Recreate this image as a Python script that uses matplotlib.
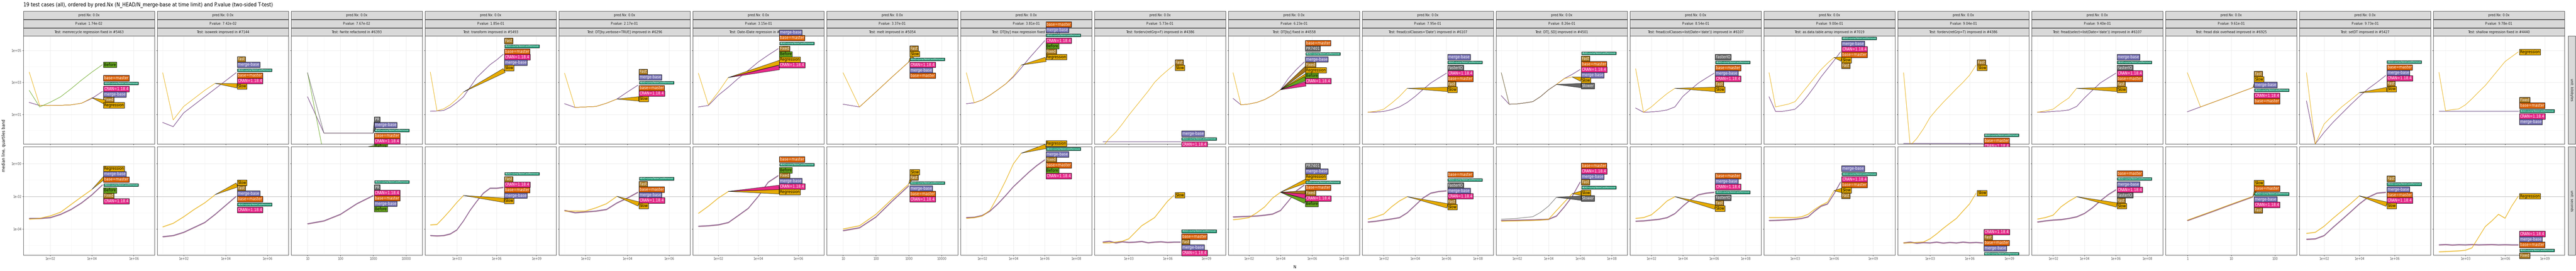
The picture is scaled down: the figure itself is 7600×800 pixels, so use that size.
import numpy as np
import matplotlib
matplotlib.use("Agg")
import matplotlib.pyplot as plt

plt.rcParams["font.family"] = "DejaVu Sans"
plt.rcParams["font.stretch"] = "condensed"

# ---- data (all values are log10 of N, kilobytes and seconds) ----
tests = ["memrecycle regression fixed in #5463", "isoweek improved in #7144", "fwrite refactored in #6393",
         "transform improved in #5493", "DT[by,verbose=TRUE] improved in #6296", "Date-IDate regression in #7213",
         "melt improved in #5054", "DT[by] max regression fixed in #7480", "forderv(retGrp=F) improved in #4386",
         "DT[by] fixed in #4558", "fread(colClasses='Date') improved in #6107", "DT[,.SD] improved in #4501",
         "fread(colClasses=list(Date='date')) improved in #6107", "as.data.table.array improved in #7019",
         "forderv(retGrp=T) improved in #4386", "fread(select=list(Date='date')) improved in #6107",
         "fread disk overhead improved in #6925", "setDT improved in #5427", "shallow regression fixed in #4440"]
pvalues = ["1.74e-02", "7.42e-02", "7.67e-02", "1.85e-01", "2.17e-01", "3.15e-01", "3.37e-01", "3.81e-01",
           "5.73e-01", "6.23e-01", "7.95e-01", "8.26e-01", "8.54e-01", "9.00e-01", "9.04e-01", "9.40e-01",
           "9.61e-01", "9.73e-01", "9.78e-01"]

xlims = [(0.72, 6.5), (0.74, 6.5), (0.85, 4.15), (0.6, 9.7), (0.73, 6.55), (0.72, 7.3), (0.87, 4.15),
         (0.63, 8.9), (0.35, 10.5), (0.7, 8.1), (0.63, 8.85), (0.67, 8.85), (0.64, 8.8), (0.6, 10.7),
         (0.56, 10.5), (0.63, 8.87), (-0.1, 2.36), (0.6, 8.05), (0.57, 10.44)]
ticks_e246 = ([2, 4, 6], ["1e+02", "1e+04", "1e+06"])
ticks_e2468 = ([2, 4, 6, 8], ["1e+02", "1e+04", "1e+06", "1e+08"])
ticks_e369 = ([3, 6, 9], ["1e+03", "1e+06", "1e+09"])
ticks_dec = ([1, 2, 3, 4], ["10", "100", "1000", "10000"])
xticks = [ticks_e246, ticks_e246, ticks_dec, ticks_e369, ticks_e246, ticks_e246, ticks_dec, ticks_e2468,
          ticks_e369, ticks_e2468, ticks_e2468, ticks_e2468, ticks_e2468, ticks_e369, ticks_e369, ticks_e2468,
          ([0, 1, 2], ["1", "10", "100"]), ticks_e246, ticks_e369]

h8 = [1, 1.5, 2, 2.5, 3, 3.5, 4, 4.5]
h11 = [1, 1.5, 2, 2.5, 3, 3.5, 4, 4.5, 5, 5.5, 6]
h13 = [1, 1.5, 2, 2.5, 3, 3.5, 4, 4.5, 5, 5.5, 6, 6.5, 7]
xs = [h8, h8, [1, 1.5, 2, 2.5, 3], h11 + [6.5], h8, h8 + [5], [1, 1.5, 2, 2.5, 3], h11, h13,
      h8 + [5, 5.5], h11, h11, h11, h11 + [6.5], h13, h11, [0, 0.3, 0.6, 0.9, 1.2, 1.5], h8 + [5, 5.5], h13]
N = None

top_main = [
    [1.75, 1.56, 1.56, 1.57, 1.6, 1.7, 2.0, 2.43],
    [0.5, 0.24, 1.1, 1.6, 2.1, 2.6, 3.1, 3.6],
    [2.1, -0.16, -0.16, -0.16, -0.16],
    [1.2, 1.22, 1.25, 1.45, 1.75, 2.1, 2.7, 3.3, 3.7, 4.1, 4.4, 4.75],
    [1.67, 1.44, 1.47, 1.5, 1.7, 1.96, 2.4, 2.82],
    [1.47, 1.56, 2.2, 2.7, 3.25, 3.75, 4.27, 4.7, 5.1],
    [1.64, 1.47, 2.4, 3.35, 4.27],
    [1.67, 1.73, 1.9, 2.2, 2.54, 2.9, 3.34, 3.9, 4.5, 5.05, 5.6],
    [-0.7] * 13,
    [2.0, 1.6, 1.65, 1.75, 1.93, 2.2, 2.54, 3.25, 3.8, 4.27],
    [1.14, 1.15, 1.19, 1.3, 1.47, 1.75, 2.12, 2.55, 2.96, 3.27, 3.57],
    [2.17, 1.64, 1.66, 1.72, 1.8, 2.12, 2.54, 2.87, 3.24, 3.5, 3.8],
    [1.4, 1.14, 1.16, 1.2, 1.28, 1.47, 2.12, 2.55, 2.96, 3.27, 3.57],
    [2.1, 1.19, 1.19, 1.25, 1.33, 1.7, 2.2, 2.75, 3.34, 3.85, 4.36, 4.9],
    [-0.8] * 13,
    [1.14, 1.15, 1.19, 1.22, 1.28, 1.5, 2.03, 2.5, 2.96, 3.27, 3.57],
    [1.17, 1.47, 1.77, 2.07, 2.38, 2.68],
    [1.84, -0.84, -0.12, 0.5, 1.05, 1.6, 2.12, 2.6, 3.0, 3.43],
    [1.22] * 13,
]
top_slow = [
    [3.64, 1.56, 1.56, 1.57, 1.6, 1.7, 2.04, N],
    [3.6, 0.66, 1.5, 2.0, 2.5, 2.94, N, N],
    [N] * 5,
    [3.64, 1.23, 1.35, 1.6, 1.96, 2.4, N, N, N, N, N, N],
    [3.57, 1.44, 1.47, 1.5, 1.7, 1.96, N, N],
    [3.57, 1.6, 2.4, 3.3, N, N, N, N, N],
    [3.6, 1.47, 2.4, 3.35, 4.27],
    [3.6, 1.73, 1.9, 2.2, 2.54, 2.9, 3.4, 4.08, N, N, N],
    [-1.0, -0.5, -0.1, 0.4, 0.95, 1.45, 1.95, 2.45, 3.0, 3.4, 3.75, 4.08, N],
    [3.6, 1.6, 1.65, 1.75, 1.93, 2.2, 2.54, N, N, N],
    [1.14, 1.2, 1.33, 1.7, 2.12, 2.63, N, N, N, N, N],
    [3.6, 1.64, 1.66, 1.72, 1.8, 2.12, 2.54, 2.87, 3.24, 3.34, N],
    [3.85, 1.14, 1.47, 1.9, 2.3, 2.63, N, N, N, N, N],
    [3.6, 1.47, 1.56, 1.65, 1.8, 2.3, 2.8, 3.3, 3.8, 4.2, 4.55, N],
    [3.6, -0.94, -0.5, 0.1, 0.81, 1.3, 1.75, 2.17, 2.6, 3.0, 3.45, 4.08, N],
    [1.14, 1.22, 1.33, 1.7, 2.03, 2.63, N, N, N, N, N],
    [3.6, 1.47, 1.77, 2.07, 2.38, 2.68],
    [3.6, -0.84, 0.4, 0.95, 1.47, 1.9, 2.36, N, N, N],
    [3.62, 1.23, 1.3, 1.35, 1.6, 1.98, 2.4, 2.8, 3.3, 3.8, 4.3, 4.6, 4.9],
]
bot_main = [
    [-3.35, -3.35, -3.3, -3.1, -2.8, -2.4, -1.9, -1.3],
    [-4.47, -4.4, -4.2, -3.9, -3.6, -3.1, -2.55, -2.0],
    [-3.68, -3.5, -3.1, -2.45, -1.95],
    [-4.4, -4.42, -4.4, -4.3, -4.05, -3.5, -2.85, -2.3, -1.8, -1.5, -1.5, -1.45],
    [-2.86, -3.0, -2.95, -2.9, -2.8, -2.4, -2.1, -1.75],
    [-3.83, -3.8, -3.74, -3.6, -3.17, -2.73, -2.0, -1.13, -0.73],
    [-4.1, -3.92, -3.26, -2.28, -1.35],
    [-3.3, -3.28, -3.17, -2.9, -2.46, -1.95, -1.4, -0.95, -0.5, -0.1, 0.24],
    [-4.8, -4.75, -4.85, -4.78, -4.82, -4.8, -4.76, -4.84, -4.8, -4.78, -4.82, -4.8, -4.8],
    [-3.26, -3.24, -3.22, -3.2, -3.15, -3.08, -2.86, -2.28, -1.66, -1.3],
    [-3.57, -3.52, -3.45, -3.38, -3.3, -3.0, -2.55, -2.1, -1.8, -1.7, -1.66],
    [-3.48, -3.47, -3.46, -3.45, -3.44, -3.42, -3.4, -3.2, -2.64, -2.0, -1.13],
    [-3.52, -3.5, -3.45, -3.4, -3.3, -3.05, -2.6, -2.2, -1.9, -1.8, -1.75],
    [-3.48, -3.47, -3.45, -3.43, -3.4, -3.35, -3.25, -2.9, -2.6, -2.46, -1.84, -1.13],
    [-4.85, -4.8, -4.87, -4.83, -4.85, -4.8, -4.86, -4.82, -4.85, -4.8, -4.84, -4.82, -4.85],
    [-3.57, -3.5, -3.45, -3.42, -3.35, -3.25, -3.04, -2.7, -2.28, -1.9, -1.6],
    [-3.48, -3.19, -2.9, -2.6, -2.31, -2.02],
    [-4.63, -4.6, -4.4, -3.9, -3.43, -2.95, -2.46, -2.05, -1.8, -1.75],
    [-4.97, -4.95, -4.98, -4.96, -4.97, -4.95, -4.97, -4.96, -4.95, -4.97, -4.96, -4.97, -4.97],
]
bot_slow = [
    [-3.4, -3.35, -3.2, -2.97, -2.5, -2.03, -1.58, N],
    [-3.87, -3.65, -3.25, -2.8, -2.4, -1.9, N, N],
    [N] * 5,
    [-3.75, -3.72, -3.3, -2.85, -2.37, -1.95, N, N, N, N, N, N],
    [-2.9, -2.9, -2.9, -2.7, -2.45, -2.0, N, N],
    [-3.04, -2.6, -2.1, -1.7, N, N, N, N, N],
    [-4.0, -3.8, -3.1, -2.15, -1.25],
    [-3.35, -3.3, -3.2, -2.86, -2.0, -1.05, 0.0, 0.64, N, N, N],
    [-4.85, -4.85, -4.8, -4.75, -4.6, -4.2, -3.8, -3.55, -3.3, -2.8, -2.3, -1.93, N],
    [-3.43, -3.38, -3.3, -3.0, -2.64, -2.1, -1.75, N, N, N],
    [-3.39, -3.25, -3.08, -2.64, -2.28, -2.02, N, N, N, N, N],
    [-3.52, -3.51, -3.5, -3.49, -3.47, -3.45, -3.4, -2.87, -2.35, -1.84, N],
    [-3.35, -3.3, -3.13, -2.73, -2.28, -2.02, N, N, N, N, N],
    [-3.3, -3.3, -3.3, -3.3, -3.3, -3.25, -3.1, -2.8, -2.55, -2.35, -1.66, N],
    [-4.85, -4.85, -4.82, -4.8, -4.6, -4.3, -3.96, -3.65, -3.35, -2.9, -2.46, -1.8, N],
    [-3.39, -3.3, -3.15, -2.64, -2.3, -2.02, N, N, N, N, N],
    [-3.46, -3.17, -2.88, -2.58, -2.29, -2.0],
    [-4.27, -4.2, -3.83, -3.35, -2.9, -2.45, -1.97, N, N, N],
    [-5.4, -5.38, -5.36, -5.34, -5.3, -5.15, -4.5, -3.85, -3.5, -3.1, -3.34, -2.6, -1.99],
]
# extra single curves: (panel, row, label, values)
extras = [
    (0, 0, "Before", [2.5, 1.47, 1.76, 2.1, 2.6, 3.14, 3.64, 4.1]),
    (2, 0, "Before", [3.6, -1.6, N, N, N]),
    (2, 0, "PR", [3.6, -0.16, -0.16, -0.16, -0.16]),
    (11, 0, "Slower", [3.6, 1.64, 1.66, 1.72, 1.8, 2.12, 2.54, 2.87, N, N, N]),
    (11, 1, "Slower", [-3.4, -3.38, -3.35, -3.3, -3.25, -2.98, -2.6, -2.06, N, N, N]),
]

top_labels = [
    ["base=master", "HEAD=jumpTableCastRemoval", "CRAN=1.18.4", "merge-base", "Fixed", "Regression"],
    ["Fast", "merge-base", "HEAD=jumpTableCastRemoval", "base=master", "CRAN=1.18.4", "Slow"],
    ["PR", "merge-base", "HEAD=jumpTableCastRemoval", "base=master", "CRAN=1.18.4", "Before"],
    ["Fast", "HEAD=jumpTableCastRemoval", "base=master", "CRAN=1.18.4", "merge-base", "Slow"],
    ["Fast", "merge-base", "HEAD=jumpTableCastRemoval", "base=master", "CRAN=1.18.4", "Slow"],
    ["merge-base", "base=master", "HEAD=jumpTableCastRemoval", "Fixed", "Before", "Regression", "CRAN=1.18.4"],
    ["Fast", "Slow", "HEAD=jumpTableCastRemoval", "CRAN=1.18.4", "merge-base", "base=master"],
    ["base=master", "merge-base", "HEAD=jumpTableCastRemoval", "CRAN=1.18.4", "Before", "Fixed", "Regression"],
    ["merge-base", "HEAD=jumpTableCastRemoval", "CRAN=1.18.4", "base=master"],
    ["base=master", "PR7401", "HEAD=jumpTableCastRemoval", "merge-base", "Fixed", "Regression", "Before", "CRAN=1.18.4"],
    ["merge-base", "HEAD=jumpTableCastRemoval", "FasterIO", "CRAN=1.18.4", "base=master", "Fast", "Slow"],
    ["HEAD=jumpTableCastRemoval", "Fast", "base=master", "CRAN=1.18.4", "merge-base", "Slow", "Slower"],
    ["FasterIO", "HEAD=jumpTableCastRemoval", "base=master", "merge-base", "CRAN=1.18.4", "Fast", "Slow"],
    ["HEAD=jumpTableCastRemoval", "merge-base", "CRAN=1.18.4", "base=master", "Slow", "Fast"],
    ["HEAD=jumpTableCastRemoval", "base=master", "CRAN=1.18.4", "merge-base"],
    ["merge-base", "HEAD=jumpTableCastRemoval", "FasterIO", "CRAN=1.18.4", "base=master", "Fast", "Slow"],
    ["Fast", "Slow", "merge-base", "HEAD=jumpTableCastRemoval", "CRAN=1.18.4", "base=master"],
    ["HEAD=jumpTableCastRemoval", "base=master", "merge-base", "CRAN=1.18.4", "Fast", "Slow"],
    ["Fixed", "base=master", "HEAD=jumpTableCastRemoval", "CRAN=1.18.4", "merge-base"],
]
bot_labels = [
    ["Regression", "merge-base", "base=master", "HEAD=jumpTableCastRemoval", "Before", "Fixed", "CRAN=1.18.4"],
    ["Slow", "Fast", "merge-base", "base=master", "HEAD=jumpTableCastRemoval", "CRAN=1.18.4"],
    ["HEAD=jumpTableCastRemoval", "PR", "CRAN=1.18.4", "base=master", "merge-base", "Before"],
    ["HEAD=jumpTableCastRemoval", "Fast", "CRAN=1.18.4", "base=master", "merge-base", "Slow"],
    ["HEAD=jumpTableCastRemoval", "Fast", "base=master", "merge-base", "CRAN=1.18.4", "Slow"],
    ["base=master", "HEAD=jumpTableCastRemoval", "Before", "Fixed", "merge-base", "CRAN=1.18.4", "Regression"],
    ["Slow", "Fast", "HEAD=jumpTableCastRemoval", "merge-base", "base=master", "CRAN=1.18.4"],
    ["Regression", "HEAD=jumpTableCastRemoval", "merge-base", "Fixed", "base=master", "Before", "CRAN=1.18.4"],
    ["HEAD=jumpTableCastRemoval", "base=master", "Fast", "merge-base", "CRAN=1.18.4"],
    ["PR7401", "merge-base", "Regression", "HEAD=jumpTableCastRemoval", "base=master", "Fixed", "CRAN=1.18.4", "Before"],
    ["base=master", "HEAD=jumpTableCastRemoval", "FasterIO", "merge-base", "CRAN=1.18.4", "Fast", "Slow"],
    ["base=master", "CRAN=1.18.4", "merge-base", "Fast", "HEAD=jumpTableCastRemoval", "Slow", "Slower"],
    ["base=master", "merge-base", "CRAN=1.18.4", "HEAD=jumpTableCastRemoval", "FasterIO", "Fast", "Slow"],
    ["merge-base", "HEAD=jumpTableCastRemoval", "CRAN=1.18.4", "base=master", "Slow", "Fast"],
    ["CRAN=1.18.4", "Fast", "base=master", "merge-base", "HEAD=jumpTableCastRemoval"],
    ["base=master", "HEAD=jumpTableCastRemoval", "merge-base", "CRAN=1.18.4", "FasterIO", "Fast", "Slow"],
    ["Slow", "base=master", "HEAD=jumpTableCastRemoval", "merge-base", "CRAN=1.18.4", "Fast"],
    ["Fast", "HEAD=jumpTableCastRemoval", "merge-base", "base=master", "CRAN=1.18.4", "Slow"],
    ["CRAN=1.18.4", "merge-base", "base=master", "HEAD=jumpTableCastRemoval", "Fixed"],
]
# separate label stacks sitting at the end of the slow curve
top_slow_stack = {8: ["Fast", "Slow"], 14: ["Fast", "Slow"], 18: ["Regression"]}
bot_slow_stack = {8: ["Slow"], 14: ["Slow"], 18: ["Regression"]}
# labels in the main stack that point (wedge) to the slow curve
wedge_extra = {5: ["CRAN=1.18.4"], 9: ["Fixed", "Before", "CRAN=1.18.4"]}

COL = {"HEAD=jumpTableCastRemoval": "#1B9E77", "base=master": "#D95F02", "merge-base": "#7570B3",
       "CRAN=1.18.4": "#E7298A", "Before": "#66A61E", "Regression": "#E6AB02", "Slow": "#E6AB02",
       "Fixed": "#A6761D", "Fast": "#A6761D", "PR": "#666666", "PR7401": "#666666",
       "FasterIO": "#666666", "Slower": "#666666"}
BLACK_TXT = {"Regression", "Slow", "Before"}
SLOW_COL = "#E6AB02"

W, H = 7600, 800
fig = plt.figure(figsize=(W / 100, H / 100), dpi=100)


def nan_arr(v):
    return np.array(v, dtype=float)


def last_pt(x, y):
    ok = np.where(np.isfinite(y))[0]
    return (x[ok[-1]], y[ok[-1]]) if len(ok) else None


def draw_stack(ax, names, anchor, targets):
    ax_x, ax_y = ax.transData.transform(anchor)
    n = len(names)
    for j, name in enumerate(names):
        px, py = ax_x + 5, ax_y + ((n - 1) / 2 - j) * 16
        fc = COL[name]
        kw = dict(xytext=(px, py), textcoords="figure pixels", ha="left", va="center",
                  fontsize=5.2 if name.startswith("HEAD") else 8.5,
                  color="black" if name in BLACK_TXT else "white",
                  bbox=dict(boxstyle="square,pad=0.15", fc=fc, ec="black", lw=0.8),
                  annotation_clip=False, zorder=10)
        if name in targets:
            kw.update(xy=targets[name], xycoords="data",
                      arrowprops=dict(arrowstyle="wedge,tail_width=1.1", fc=fc, ec="black", lw=0.6,
                                      shrinkA=0, shrinkB=0))
        else:
            kw.update(xy=(px, py), xycoords="figure pixels")
        ax.annotate(name, **kw)


rows = [(106, 425, (-0.84, 5.9), [1, 3, 5], ["1e+01", "1e+03", "1e+05"], [0, 2, 4],
         top_main, top_slow, top_labels, top_slow_stack),
        (433, 753, (-5.6, 1.04), [-4, -2, 0], ["1e-04", "1e-02", "1e+00"], [-5, -3, -1],
         bot_main, bot_slow, bot_labels, bot_slow_stack)]

for i in range(19):
    left = 69 + i * 395
    for k, (t, b) in enumerate([(33, 57), (58, 82), (83, 106)]):
        sax = fig.add_axes([left / W, 1 - b / H, 387 / W, (b - t) / H])
        sax.set_facecolor("#D9D9D9")
        sax.set_xticks([]); sax.set_yticks([])
        for s in sax.spines.values():
            s.set_color("#333333"); s.set_linewidth(0.8)
        txt = ["pred.Nx: 0.0x", "P.value: " + pvalues[i], "Test: " + tests[i]][k]
        sax.text(0.5, 0.5, txt, ha="center", va="center", fontsize=7.5, color="#1A1A1A",
                 transform=sax.transAxes)

    x = nan_arr(xs[i])
    for r, (t, b, ylim, yt, ytl, ymin, mains, slows, labels, sstack) in enumerate(rows):
        ax = fig.add_axes([left / W, 1 - b / H, 387 / W, (b - t) / H])
        ax.set_xlim(*xlims[i]); ax.set_ylim(*ylim)
        tk, tl = xticks[i]
        ax.set_xticks(tk)
        ax.set_xticks([v + (tk[1] - tk[0]) / 2 for v in [tk[0] - (tk[1] - tk[0])] + tk], minor=True)
        ax.set_yticks(yt); ax.set_yticks(ymin, minor=True)
        ax.grid(True, which="major", color="#EBEBEB", lw=0.9)
        ax.grid(True, which="minor", color="#F2F2F2", lw=0.5)
        ax.set_axisbelow(True)
        ax.tick_params(which="minor", length=0)
        ax.tick_params(which="major", length=2.5, color="#333333", labelsize=7, labelcolor="#4D4D4D", pad=2)
        ax.set_xticklabels(tl if r == 1 else [])
        ax.set_yticklabels(ytl if i == 0 else [])
        for s in ax.spines.values():
            s.set_color("#333333"); s.set_linewidth(0.8)
        if r == 1:
            ax.axhline(-2, color="#BEBEBE", lw=1.0, zorder=1)

        ym = nan_arr(mains[i]); ys = nan_arr(slows[i])
        for c in ["#1B9E77", "#D95F02", "#E7298A", "#7570B3"]:
            if r == 1:
                ax.fill_between(x, ym - 0.04, ym + 0.04, color=c, alpha=0.25, lw=0)
            ax.plot(x, ym, color=c, lw=0.9)
        if r == 1:
            ax.fill_between(x, ys - 0.04, ys + 0.04, color=SLOW_COL, alpha=0.3, lw=0)
        ax.plot(x, ys, color=SLOW_COL, lw=0.9)

        targets = {}
        sp = last_pt(x, ys)
        for nm in ["Regression", "Slow"] + wedge_extra.get(i, []):
            if sp is not None:
                targets[nm] = sp
        for (pi, pr, lab, vals) in extras:
            if pi == i and pr == r:
                ye = nan_arr(vals)
                ax.plot(x, ye, color=COL[lab], lw=0.9)
                ep = last_pt(x, ye)
                if lab in labels[i]:
                    targets[lab] = ep
                else:
                    draw_stack(ax, [lab], ep, {})

        mp = last_pt(x, ym)
        draw_stack(ax, labels[i][i * 0:], mp, targets)
        if i in sstack and sp is not None:
            draw_stack(ax, sstack[i], sp, {})

# facet strips on the right
for (t, b, txt) in [(106, 425, "unit: kilobytes"), (433, 753, "unit: seconds")]:
    rax = fig.add_axes([7577 / W, 1 - b / H, 21 / W, (b - t) / H])
    rax.set_facecolor("#D9D9D9"); rax.set_xticks([]); rax.set_yticks([])
    for s in rax.spines.values():
        s.set_color("#333333"); s.set_linewidth(0.8)
    rax.text(0.5, 0.5, txt, rotation=270, ha="center", va="center", fontsize=7.5, color="#1A1A1A",
             transform=rax.transAxes)

fig.text(69 / W, 1 - 15 / H, "19 test cases (all), ordered by pred.Nx (N_HEAD/N_merge-base at time limit) "
         "and P.value (two-sided T-test)", ha="left", va="center", fontsize=11)
fig.text(12 / W, 1 - 430 / H, "median line, quartiles band", rotation=90, ha="center", va="center", fontsize=9)
fig.text(3820 / W, 1 - 788 / H, "N", ha="center", va="center", fontsize=9)

fig.savefig("out.png", dpi=100)
